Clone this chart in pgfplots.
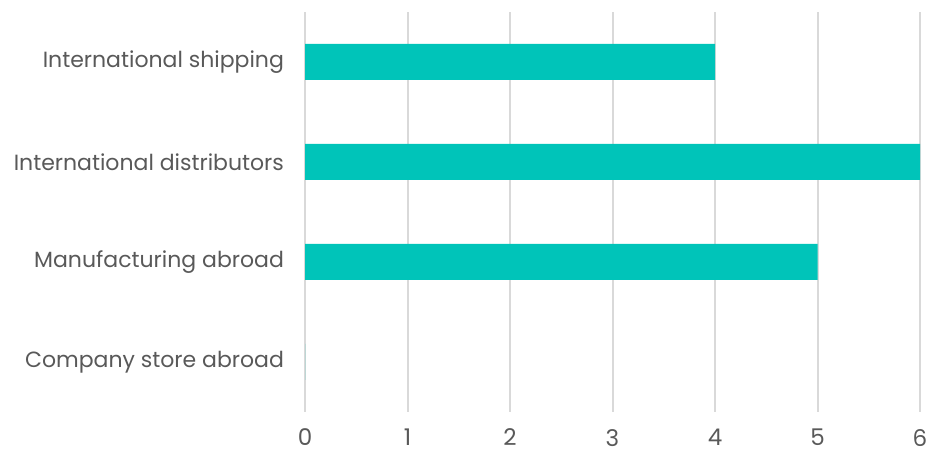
\documentclass[border=0pt]{standalone}
\usepackage{fontspec}
\setmainfont{Poppins}
\usepackage{pgfplots}
\pgfplotsset{compat=1.18}
\definecolor{barc}{RGB}{0,196,185}
\definecolor{gridc}{RGB}{217,217,217}
\definecolor{txt}{RGB}{89,89,89}
\begin{document}
\begin{tikzpicture}
\begin{axis}[
  name=ax,
  scale only axis,
  width=307.5pt, height=200pt,
  xbar, bar width=18pt,
  xmin=0, xmax=6,
  ymin=-0.5, ymax=3.5,
  xtick={0,...,6},
  ytick={0,1,2,3},
  yticklabels={Company store abroad,Manufacturing abroad,International distributors,International shipping},
  axis line style={draw=none},
  major tick length=0pt,
  xmajorgrids,
  grid style={gridc, line width=1pt},
  yticklabel style={text=txt, font=\fontsize{11}{13}\selectfont, xshift=-7pt},
  xticklabel style={text=txt, font=\fontsize{11.5}{13}\selectfont, yshift=-5pt},
  /pgf/number format/assume math mode=true,
  axis on top=false,
]
\addplot[fill=barc, draw=none] coordinates {(0,0) (5,1) (6,2) (4,3)};
\end{axis}
\pgfresetboundingbox
\path ([shift={(-152.5pt,-20.5pt)}]ax.south west) rectangle ([shift={(4.5pt,6pt)}]ax.north east);
\end{tikzpicture}
\end{document}
